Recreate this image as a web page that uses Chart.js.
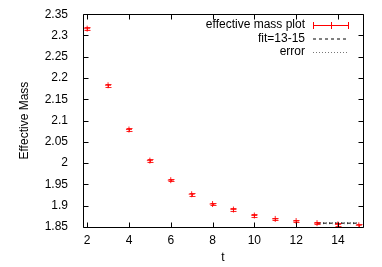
<!DOCTYPE html>
<html>
<head>
<meta charset="utf-8">
<style>
  html, body { margin: 0; padding: 0; background: #fff; }
  #wrap { width: 382px; height: 267px; }
</style>
<script src="https://cdn.jsdelivr.net/npm/chart.js@4.4.1/dist/chart.umd.min.js"></script>
</head>
<body>
<div id="wrap"><canvas id="graph" width="382" height="267"></canvas></div>
<script>
  // effective mass data
  const tValues = [2, 3, 4, 5, 6, 7, 8, 9, 10, 11, 12, 13, 14, 15];
  const massValues = [2.316, 2.183, 2.079, 2.006, 1.960, 1.927, 1.904, 1.891, 1.877, 1.869, 1.864, 1.859, 1.856, 1.854];
  const massErrors = [0.004, 0.003, 0.003, 0.003, 0.003, 0.003, 0.003, 0.003, 0.003, 0.003, 0.003, 0.003, 0.003, 0.003];

  // fit over t = 13..15
  const fitT = [13, 15];
  const fitValue = 1.859;
  const fitError = 0.0012;

  const xTicks = [2, 4, 6, 8, 10, 12, 14];
  const yTicks = [1.85, 1.9, 1.95, 2, 2.05, 2.1, 2.15, 2.2, 2.25, 2.3, 2.35];

  const legendLabels = ['effective mass plot', 'fit=13-15', 'error'];

  const FAMILY = '"Liberation Sans", Arial, sans-serif';

  // error bars, inward ticks, frame and legend like gnuplot
  const gnuplotLook = {
    id: 'gnuplotLook',
    afterDatasetsDraw(chart) {
      const ctx = chart.ctx;
      const x = chart.scales.x, y = chart.scales.y;
      ctx.save();
      ctx.strokeStyle = 'rgba(255,0,0,0.85)';
      ctx.lineWidth = 1;
      for (let i = 0; i < tValues.length; i++) {
        const px = Math.round(x.getPixelForValue(tValues[i])) + 0.5;
        const top = Math.round(y.getPixelForValue(massValues[i] + massErrors[i])) + 0.5;
        const bot = Math.round(y.getPixelForValue(massValues[i] - massErrors[i])) + 0.5;
        ctx.beginPath();
        ctx.moveTo(px, top); ctx.lineTo(px, bot);
        ctx.moveTo(px - 3, top); ctx.lineTo(px + 3, top);
        ctx.moveTo(px - 3, bot); ctx.lineTo(px + 3, bot);
        ctx.stroke();
      }
      ctx.restore();
    },
    afterDraw(chart) {
      const ctx = chart.ctx;
      const a = chart.chartArea;
      const x = chart.scales.x, y = chart.scales.y;
      ctx.save();
      ctx.strokeStyle = '#000';
      ctx.lineWidth = 1;
      ctx.beginPath();
      const L = Math.round(a.left) + 0.5, R = Math.round(a.right) + 0.5;
      const T = Math.round(a.top) + 0.5, B = Math.round(a.bottom) + 0.5;
      ctx.rect(L, T, R - L, B - T);
      const tl = 5;
      xTicks.forEach(v => {
        const px = Math.round(x.getPixelForValue(v)) + 0.5;
        ctx.moveTo(px, B); ctx.lineTo(px, B - tl);
        ctx.moveTo(px, T); ctx.lineTo(px, T + tl);
      });
      yTicks.forEach(v => {
        const py = Math.round(y.getPixelForValue(v)) + 0.5;
        ctx.moveTo(L, py); ctx.lineTo(L + tl, py);
        ctx.moveTo(R, py); ctx.lineTo(R - tl, py);
      });
      ctx.stroke();

      // legend
      ctx.font = '12px ' + FAMILY;
      ctx.fillStyle = '#000';
      ctx.textAlign = 'right';
      ctx.textBaseline = 'middle';
      const textRight = 305, s0 = 313, s1 = 348;
      const rows = [25, 38.5, 52];
      legendLabels.forEach((lab, i) => ctx.fillText(lab, textRight, rows[i]));
      // row 1 sample: red line with bar ends
      ctx.strokeStyle = '#ff0000';
      ctx.beginPath();
      ctx.moveTo(s0, rows[0] + 0.5); ctx.lineTo(s1, rows[0] + 0.5);
      [s0, (s0 + s1) / 2, s1].forEach(sx => {
        ctx.moveTo(Math.round(sx) + 0.5, rows[0] - 3); ctx.lineTo(Math.round(sx) + 0.5, rows[0] + 4);
      });
      ctx.stroke();
      ctx.strokeStyle = '#000';
      ctx.setLineDash([3, 3]);
      ctx.beginPath();
      ctx.moveTo(s0, rows[1] + 0.5); ctx.lineTo(s1, rows[1] + 0.5);
      ctx.stroke();
      ctx.strokeStyle = '#777';
      ctx.setLineDash([1, 2]);
      ctx.beginPath();
      ctx.moveTo(s0, rows[2] + 0.5); ctx.lineTo(s1, rows[2] + 0.5);
      ctx.stroke();
      ctx.restore();
    }
  };

  const ctx = document.getElementById('graph').getContext('2d');
  new Chart(ctx, {
    type: 'scatter',
    data: {
      datasets: [
        {
          label: legendLabels[0],
          data: tValues.map((t, i) => ({ x: t, y: massValues[i] })),
          pointStyle: 'cross',
          radius: 3,
          borderColor: 'rgba(255,0,0,0.85)',
          backgroundColor: 'red',
          borderWidth: 1
        },
        {
          label: legendLabels[1],
          type: 'line',
          data: fitT.map(t => ({ x: t, y: fitValue })),
          borderColor: '#000',
          borderWidth: 1,
          borderDash: [3, 3],
          pointRadius: 0
        },
        {
          label: legendLabels[2],
          type: 'line',
          data: fitT.map(t => ({ x: t, y: fitValue + fitError })),
          borderColor: '#777',
          borderWidth: 1,
          borderDash: [1, 2],
          pointRadius: 0
        },
        {
          label: legendLabels[2],
          type: 'line',
          data: fitT.map(t => ({ x: t, y: fitValue - fitError })),
          borderColor: '#777',
          borderWidth: 1,
          borderDash: [1, 2],
          pointRadius: 0
        }
      ]
    },
    options: {
      responsive: false,
      animation: false,
      layout: { padding: { top: 14, right: 19, left: 0, bottom: 0 } },
      plugins: { legend: { display: false }, tooltip: { enabled: false } },
      scales: {
        x: {
          type: 'linear',
          min: 1.8,
          max: 15.2,
          afterBuildTicks: s => { s.ticks = xTicks.map(v => ({ value: v })); },
          afterFit: s => { s.height = 40; },
          grid: { display: false, drawTicks: false },
          border: { display: false },
          ticks: { color: '#000', font: { family: FAMILY, size: 12 }, padding: 6, maxRotation: 0 },
          title: { display: true, text: 't', color: '#000', font: { family: FAMILY, size: 12 }, padding: { top: 2, bottom: 2 } }
        },
        y: {
          type: 'linear',
          min: 1.85,
          max: 2.35,
          afterBuildTicks: s => { s.ticks = yTicks.map(v => ({ value: v })); },
          afterFit: s => { s.width = 83; },
          grid: { display: false },
          border: { display: false },
          ticks: {
            color: '#000',
            font: { family: FAMILY, size: 12 },
            padding: 7,
            callback: v => String(Number(v.toFixed(2)))
          },
          title: { display: true, text: 'Effective Mass', color: '#000', font: { family: FAMILY, size: 12 }, padding: { top: 17, bottom: 0 } }
        }
      }
    },
    plugins: [gnuplotLook]
  });
</script>
</body>
</html>
